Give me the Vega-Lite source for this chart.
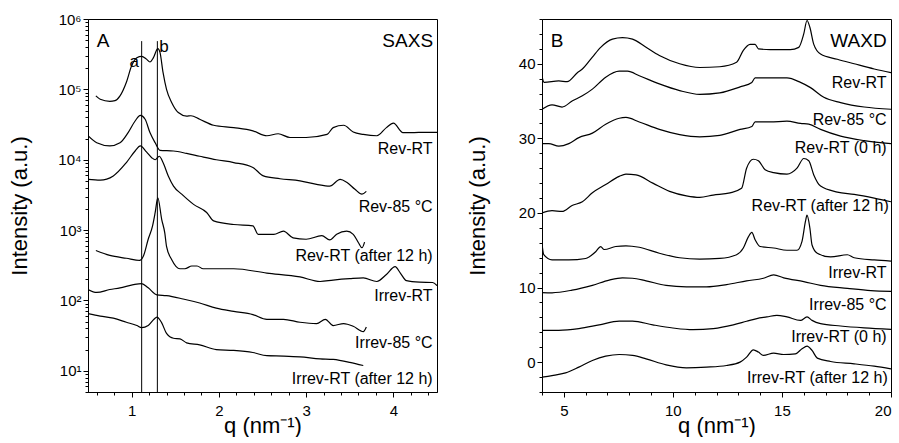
{
  "$schema": "https://vega.github.io/schema/vega-lite/v6.json",
  "padding": {"left": 8, "top": 11, "right": 0, "bottom": 0},
  "background": "white",
  "config": {
    "font": "Liberation Sans",
    "view": {"stroke": "black", "strokeWidth": 1},
    "axis": {"labelFont": "Liberation Sans", "labelFontSize": 15, "labelColor": "black", "titleFont": "Liberation Sans", "titleFontSize": 22, "titleFontWeight": "normal", "titleColor": "black", "grid": false, "domainColor": "black", "tickColor": "black", "labelOverlap": false, "labelPadding": 2},
    "axisX": {"labelPadding": 6, "titlePadding": -3}
  },
  "spacing": 27,
  "datasets": {
    "saxs": [
      {"s": "Rev-RT", "q": 0.59, "I": 80700}, {"s": "Rev-RT", "q": 0.64, "I": 72400}, {"s": "Rev-RT", "q": 0.75, "I": 67600}, {"s": "Rev-RT", "q": 0.81, "I": 69200}, {"s": "Rev-RT", "q": 0.867, "I": 80700}, {"s": "Rev-RT", "q": 0.94, "I": 126000}, {"s": "Rev-RT", "q": 1.0, "I": 216000}, {"s": "Rev-RT", "q": 1.06, "I": 282000}, {"s": "Rev-RT", "q": 1.115, "I": 295000}, {"s": "Rev-RT", "q": 1.17, "I": 269000}, {"s": "Rev-RT", "q": 1.21, "I": 245000}, {"s": "Rev-RT", "q": 1.25, "I": 282000}, {"s": "Rev-RT", "q": 1.3, "I": 380000}, {"s": "Rev-RT", "q": 1.325, "I": 335000}, {"s": "Rev-RT", "q": 1.36, "I": 174000}, {"s": "Rev-RT", "q": 1.4, "I": 100000}, {"s": "Rev-RT", "q": 1.46, "I": 64600}, {"s": "Rev-RT", "q": 1.535, "I": 46800}, {"s": "Rev-RT", "q": 1.63, "I": 41700}, {"s": "Rev-RT", "q": 1.68, "I": 42200}, {"s": "Rev-RT", "q": 1.78, "I": 37600}, {"s": "Rev-RT", "q": 1.94, "I": 30900}, {"s": "Rev-RT", "q": 2.17, "I": 28600}, {"s": "Rev-RT", "q": 2.39, "I": 25700}, {"s": "Rev-RT", "q": 2.55, "I": 21900}, {"s": "Rev-RT", "q": 2.68, "I": 23400}, {"s": "Rev-RT", "q": 2.815, "I": 20700}, {"s": "Rev-RT", "q": 3.0, "I": 20700}, {"s": "Rev-RT", "q": 3.24, "I": 22900}, {"s": "Rev-RT", "q": 3.31, "I": 28600}, {"s": "Rev-RT", "q": 3.43, "I": 30900}, {"s": "Rev-RT", "q": 3.54, "I": 24800}, {"s": "Rev-RT", "q": 3.655, "I": 22900}, {"s": "Rev-RT", "q": 3.81, "I": 21900}, {"s": "Rev-RT", "q": 3.92, "I": 28600}, {"s": "Rev-RT", "q": 4.0, "I": 33100}, {"s": "Rev-RT", "q": 4.11, "I": 24300}, {"s": "Rev-RT", "q": 4.24, "I": 24300}, {"s": "Rev-RT", "q": 4.34, "I": 24500}, {"s": "Rev-RT", "q": 4.5, "I": 24500},
      {"s": "Rev-85", "q": 0.5, "I": 21900}, {"s": "Rev-85", "q": 0.6, "I": 17400}, {"s": "Rev-85", "q": 0.75, "I": 15700}, {"s": "Rev-85", "q": 0.867, "I": 17400}, {"s": "Rev-85", "q": 0.96, "I": 24300}, {"s": "Rev-85", "q": 1.04, "I": 35500}, {"s": "Rev-85", "q": 1.1, "I": 42700}, {"s": "Rev-85", "q": 1.155, "I": 37600}, {"s": "Rev-85", "q": 1.21, "I": 24300}, {"s": "Rev-85", "q": 1.27, "I": 17400}, {"s": "Rev-85", "q": 1.325, "I": 13600}, {"s": "Rev-85", "q": 1.48, "I": 13300}, {"s": "Rev-85", "q": 1.63, "I": 12300}, {"s": "Rev-85", "q": 1.78, "I": 11200}, {"s": "Rev-85", "q": 1.97, "I": 10000}, {"s": "Rev-85", "q": 2.17, "I": 9120}, {"s": "Rev-85", "q": 2.39, "I": 7760}, {"s": "Rev-85", "q": 2.51, "I": 5890}, {"s": "Rev-85", "q": 2.7, "I": 5370}, {"s": "Rev-85", "q": 2.93, "I": 5010}, {"s": "Rev-85", "q": 3.12, "I": 4470}, {"s": "Rev-85", "q": 3.27, "I": 4220}, {"s": "Rev-85", "q": 3.39, "I": 5250}, {"s": "Rev-85", "q": 3.465, "I": 4790}, {"s": "Rev-85", "q": 3.56, "I": 3800}, {"s": "Rev-85", "q": 3.64, "I": 3240}, {"s": "Rev-85", "q": 3.69, "I": 3550},
      {"s": "Rev-12", "q": 0.5, "I": 5250}, {"s": "Rev-12", "q": 0.64, "I": 5130}, {"s": "Rev-12", "q": 0.79, "I": 5890}, {"s": "Rev-12", "q": 0.94, "I": 9120}, {"s": "Rev-12", "q": 1.04, "I": 13300}, {"s": "Rev-12", "q": 1.1, "I": 15700}, {"s": "Rev-12", "q": 1.17, "I": 12900}, {"s": "Rev-12", "q": 1.23, "I": 10700}, {"s": "Rev-12", "q": 1.27, "I": 10000}, {"s": "Rev-12", "q": 1.317, "I": 11200}, {"s": "Rev-12", "q": 1.36, "I": 9120}, {"s": "Rev-12", "q": 1.42, "I": 5890}, {"s": "Rev-12", "q": 1.48, "I": 4220}, {"s": "Rev-12", "q": 1.574, "I": 3240}, {"s": "Rev-12", "q": 1.71, "I": 2320}, {"s": "Rev-12", "q": 1.86, "I": 1780}, {"s": "Rev-12", "q": 1.94, "I": 1350}, {"s": "Rev-12", "q": 2.17, "I": 1200}, {"s": "Rev-12", "q": 2.39, "I": 1150}, {"s": "Rev-12", "q": 2.45, "I": 871}, {"s": "Rev-12", "q": 2.63, "I": 871}, {"s": "Rev-12", "q": 2.74, "I": 966}, {"s": "Rev-12", "q": 2.85, "I": 776}, {"s": "Rev-12", "q": 3.0, "I": 741}, {"s": "Rev-12", "q": 3.18, "I": 832}, {"s": "Rev-12", "q": 3.27, "I": 724}, {"s": "Rev-12", "q": 3.35, "I": 871}, {"s": "Rev-12", "q": 3.465, "I": 966}, {"s": "Rev-12", "q": 3.54, "I": 871}, {"s": "Rev-12", "q": 3.6, "I": 661}, {"s": "Rev-12", "q": 3.64, "I": 562}, {"s": "Rev-12", "q": 3.67, "I": 676},
      {"s": "Irrev-RT", "q": 0.59, "I": 513}, {"s": "Irrev-RT", "q": 0.75, "I": 437}, {"s": "Irrev-RT", "q": 0.94, "I": 398}, {"s": "Irrev-RT", "q": 1.096, "I": 372}, {"s": "Irrev-RT", "q": 1.135, "I": 427}, {"s": "Irrev-RT", "q": 1.19, "I": 741}, {"s": "Irrev-RT", "q": 1.24, "I": 1150}, {"s": "Irrev-RT", "q": 1.27, "I": 1780}, {"s": "Irrev-RT", "q": 1.3, "I": 2880}, {"s": "Irrev-RT", "q": 1.345, "I": 1410}, {"s": "Irrev-RT", "q": 1.38, "I": 912}, {"s": "Irrev-RT", "q": 1.4, "I": 589}, {"s": "Irrev-RT", "q": 1.46, "I": 380}, {"s": "Irrev-RT", "q": 1.554, "I": 282}, {"s": "Irrev-RT", "q": 1.61, "I": 282}, {"s": "Irrev-RT", "q": 1.69, "I": 309}, {"s": "Irrev-RT", "q": 1.75, "I": 309}, {"s": "Irrev-RT", "q": 1.82, "I": 282}, {"s": "Irrev-RT", "q": 2.17, "I": 282}, {"s": "Irrev-RT", "q": 2.55, "I": 245}, {"s": "Irrev-RT", "q": 2.93, "I": 216}, {"s": "Irrev-RT", "q": 3.16, "I": 186}, {"s": "Irrev-RT", "q": 3.31, "I": 195}, {"s": "Irrev-RT", "q": 3.5, "I": 204}, {"s": "Irrev-RT", "q": 3.655, "I": 209}, {"s": "Irrev-RT", "q": 3.81, "I": 186}, {"s": "Irrev-RT", "q": 3.92, "I": 234}, {"s": "Irrev-RT", "q": 4.02, "I": 302}, {"s": "Irrev-RT", "q": 4.08, "I": 245}, {"s": "Irrev-RT", "q": 4.15, "I": 191}, {"s": "Irrev-RT", "q": 4.3, "I": 182}, {"s": "Irrev-RT", "q": 4.45, "I": 180}, {"s": "Irrev-RT", "q": 4.5, "I": 162},
      {"s": "Irrev-85", "q": 0.5, "I": 143}, {"s": "Irrev-85", "q": 0.6, "I": 130}, {"s": "Irrev-85", "q": 0.75, "I": 143}, {"s": "Irrev-85", "q": 0.867, "I": 151}, {"s": "Irrev-85", "q": 1.02, "I": 168}, {"s": "Irrev-85", "q": 1.115, "I": 174}, {"s": "Irrev-85", "q": 1.19, "I": 151}, {"s": "Irrev-85", "q": 1.29, "I": 120}, {"s": "Irrev-85", "q": 1.4, "I": 117}, {"s": "Irrev-85", "q": 1.59, "I": 105}, {"s": "Irrev-85", "q": 1.78, "I": 92}, {"s": "Irrev-85", "q": 1.97, "I": 78}, {"s": "Irrev-85", "q": 2.17, "I": 70}, {"s": "Irrev-85", "q": 2.39, "I": 63}, {"s": "Irrev-85", "q": 2.55, "I": 54}, {"s": "Irrev-85", "q": 2.74, "I": 54}, {"s": "Irrev-85", "q": 2.93, "I": 49}, {"s": "Irrev-85", "q": 3.12, "I": 47}, {"s": "Irrev-85", "q": 3.22, "I": 54}, {"s": "Irrev-85", "q": 3.31, "I": 44}, {"s": "Irrev-85", "q": 3.43, "I": 47}, {"s": "Irrev-85", "q": 3.54, "I": 43}, {"s": "Irrev-85", "q": 3.655, "I": 36}, {"s": "Irrev-85", "q": 3.69, "I": 42},
      {"s": "Irrev-12", "q": 0.5, "I": 65}, {"s": "Irrev-12", "q": 0.64, "I": 60}, {"s": "Irrev-12", "q": 0.79, "I": 56}, {"s": "Irrev-12", "q": 0.94, "I": 49}, {"s": "Irrev-12", "q": 1.06, "I": 44}, {"s": "Irrev-12", "q": 1.115, "I": 41}, {"s": "Irrev-12", "q": 1.19, "I": 44}, {"s": "Irrev-12", "q": 1.256, "I": 54}, {"s": "Irrev-12", "q": 1.29, "I": 58}, {"s": "Irrev-12", "q": 1.345, "I": 48}, {"s": "Irrev-12", "q": 1.4, "I": 34}, {"s": "Irrev-12", "q": 1.48, "I": 29}, {"s": "Irrev-12", "q": 1.554, "I": 28.5}, {"s": "Irrev-12", "q": 1.63, "I": 25}, {"s": "Irrev-12", "q": 1.78, "I": 23.4}, {"s": "Irrev-12", "q": 1.97, "I": 20}, {"s": "Irrev-12", "q": 2.17, "I": 19.5}, {"s": "Irrev-12", "q": 2.39, "I": 18.2}, {"s": "Irrev-12", "q": 2.55, "I": 16.4}, {"s": "Irrev-12", "q": 2.74, "I": 16.2}, {"s": "Irrev-12", "q": 2.93, "I": 15.8}, {"s": "Irrev-12", "q": 3.16, "I": 14.8}, {"s": "Irrev-12", "q": 3.31, "I": 14.5}, {"s": "Irrev-12", "q": 3.5, "I": 13.2}, {"s": "Irrev-12", "q": 3.655, "I": 11.9}
    ],
    "saxsLabels": [
      {"q": 4.45, "I": 14000, "t": "Rev-RT"}, {"q": 4.45, "I": 2100, "t": "Rev-85 °C"}, {"q": 4.45, "I": 435, "t": "Rev-RT (after 12 h)"}, {"q": 4.45, "I": 117, "t": "Irrev-RT"}, {"q": 4.45, "I": 25, "t": "Irrev-85 °C"}, {"q": 4.45, "I": 7.7, "t": "Irrev-RT (after 12 h)"}
    ],
    "saxsPeaks": [{"q": 1.115, "top": 485000, "bottom": 5, "t": "a", "tq": 1.03, "tI": 248000}, {"q": 1.295, "top": 485000, "bottom": 5, "t": "b", "tq": 1.37, "tI": 400000}],
    "waxd": [
      {"s": "Rev-RT", "q": 4.0, "I": 38.3}, {"s": "Rev-RT", "q": 4.1, "I": 37.5}, {"s": "Rev-RT", "q": 4.77, "I": 37.7}, {"s": "Rev-RT", "q": 5.15, "I": 37.6}, {"s": "Rev-RT", "q": 5.62, "I": 38.8}, {"s": "Rev-RT", "q": 5.85, "I": 39.3}, {"s": "Rev-RT", "q": 6.31, "I": 40.9}, {"s": "Rev-RT", "q": 6.69, "I": 42.2}, {"s": "Rev-RT", "q": 7.23, "I": 43.3}, {"s": "Rev-RT", "q": 7.69, "I": 43.5}, {"s": "Rev-RT", "q": 8.15, "I": 43.3}, {"s": "Rev-RT", "q": 8.77, "I": 42.2}, {"s": "Rev-RT", "q": 9.38, "I": 41.1}, {"s": "Rev-RT", "q": 10.31, "I": 40.0}, {"s": "Rev-RT", "q": 11.23, "I": 39.5}, {"s": "Rev-RT", "q": 12.15, "I": 39.6}, {"s": "Rev-RT", "q": 12.92, "I": 40.2}, {"s": "Rev-RT", "q": 13.23, "I": 41.8}, {"s": "Rev-RT", "q": 13.54, "I": 42.6}, {"s": "Rev-RT", "q": 13.77, "I": 42.6}, {"s": "Rev-RT", "q": 13.92, "I": 42.0}, {"s": "Rev-RT", "q": 14.46, "I": 41.9}, {"s": "Rev-RT", "q": 15.38, "I": 41.9}, {"s": "Rev-RT", "q": 15.77, "I": 42.2}, {"s": "Rev-RT", "q": 16.0, "I": 44.0}, {"s": "Rev-RT", "q": 16.15, "I": 45.8}, {"s": "Rev-RT", "q": 16.28, "I": 44.9}, {"s": "Rev-RT", "q": 16.46, "I": 42.6}, {"s": "Rev-RT", "q": 16.77, "I": 41.3}, {"s": "Rev-RT", "q": 17.54, "I": 40.6}, {"s": "Rev-RT", "q": 18.31, "I": 40.0}, {"s": "Rev-RT", "q": 19.23, "I": 39.3}, {"s": "Rev-RT", "q": 20.0, "I": 38.8},
      {"s": "Rev-85", "q": 4.0, "I": 33.9}, {"s": "Rev-85", "q": 4.46, "I": 34.5}, {"s": "Rev-85", "q": 4.92, "I": 34.2}, {"s": "Rev-85", "q": 5.38, "I": 35.0}, {"s": "Rev-85", "q": 5.85, "I": 35.7}, {"s": "Rev-85", "q": 6.31, "I": 36.6}, {"s": "Rev-85", "q": 6.92, "I": 38.2}, {"s": "Rev-85", "q": 7.54, "I": 39.0}, {"s": "Rev-85", "q": 7.92, "I": 39.0}, {"s": "Rev-85", "q": 8.46, "I": 38.4}, {"s": "Rev-85", "q": 9.38, "I": 37.3}, {"s": "Rev-85", "q": 10.31, "I": 36.4}, {"s": "Rev-85", "q": 11.23, "I": 35.9}, {"s": "Rev-85", "q": 12.15, "I": 36.1}, {"s": "Rev-85", "q": 13.08, "I": 36.9}, {"s": "Rev-85", "q": 13.62, "I": 37.5}, {"s": "Rev-85", "q": 13.77, "I": 38.1}, {"s": "Rev-85", "q": 14.46, "I": 38.1}, {"s": "Rev-85", "q": 15.23, "I": 38.1}, {"s": "Rev-85", "q": 15.85, "I": 37.5}, {"s": "Rev-85", "q": 16.31, "I": 36.8}, {"s": "Rev-85", "q": 16.92, "I": 35.5}, {"s": "Rev-85", "q": 17.69, "I": 34.8}, {"s": "Rev-85", "q": 18.77, "I": 34.2}, {"s": "Rev-85", "q": 20.0, "I": 33.9},
      {"s": "Rev-0", "q": 4.0, "I": 29.3}, {"s": "Rev-0", "q": 4.31, "I": 29.3}, {"s": "Rev-0", "q": 4.77, "I": 28.95}, {"s": "Rev-0", "q": 5.23, "I": 29.3}, {"s": "Rev-0", "q": 5.69, "I": 30.1}, {"s": "Rev-0", "q": 6.31, "I": 30.7}, {"s": "Rev-0", "q": 6.92, "I": 31.9}, {"s": "Rev-0", "q": 7.54, "I": 32.7}, {"s": "Rev-0", "q": 7.85, "I": 32.8}, {"s": "Rev-0", "q": 8.46, "I": 32.2}, {"s": "Rev-0", "q": 9.38, "I": 31.2}, {"s": "Rev-0", "q": 10.31, "I": 30.5}, {"s": "Rev-0", "q": 11.23, "I": 30.2}, {"s": "Rev-0", "q": 12.15, "I": 30.4}, {"s": "Rev-0", "q": 13.08, "I": 31.2}, {"s": "Rev-0", "q": 13.62, "I": 31.6}, {"s": "Rev-0", "q": 13.77, "I": 32.2}, {"s": "Rev-0", "q": 14.46, "I": 32.2}, {"s": "Rev-0", "q": 15.23, "I": 32.3}, {"s": "Rev-0", "q": 15.85, "I": 32.0}, {"s": "Rev-0", "q": 16.23, "I": 31.9}, {"s": "Rev-0", "q": 16.77, "I": 31.2}, {"s": "Rev-0", "q": 17.69, "I": 30.3}, {"s": "Rev-0", "q": 18.77, "I": 29.7}, {"s": "Rev-0", "q": 20.0, "I": 29.3},
      {"s": "Rev-12", "q": 4.0, "I": 20.0}, {"s": "Rev-12", "q": 4.46, "I": 20.3}, {"s": "Rev-12", "q": 4.92, "I": 20.2}, {"s": "Rev-12", "q": 5.38, "I": 21.0}, {"s": "Rev-12", "q": 5.85, "I": 21.5}, {"s": "Rev-12", "q": 6.31, "I": 22.7}, {"s": "Rev-12", "q": 6.92, "I": 23.8}, {"s": "Rev-12", "q": 7.54, "I": 24.9}, {"s": "Rev-12", "q": 7.85, "I": 25.2}, {"s": "Rev-12", "q": 8.31, "I": 25.1}, {"s": "Rev-12", "q": 9.08, "I": 24.0}, {"s": "Rev-12", "q": 9.85, "I": 22.9}, {"s": "Rev-12", "q": 10.62, "I": 22.3}, {"s": "Rev-12", "q": 11.23, "I": 22.1}, {"s": "Rev-12", "q": 11.85, "I": 22.4}, {"s": "Rev-12", "q": 12.62, "I": 22.7}, {"s": "Rev-12", "q": 13.15, "I": 23.3}, {"s": "Rev-12", "q": 13.38, "I": 26.0}, {"s": "Rev-12", "q": 13.69, "I": 27.2}, {"s": "Rev-12", "q": 13.92, "I": 27.0}, {"s": "Rev-12", "q": 14.23, "I": 25.8}, {"s": "Rev-12", "q": 14.62, "I": 25.4}, {"s": "Rev-12", "q": 15.23, "I": 25.2}, {"s": "Rev-12", "q": 15.69, "I": 26.0}, {"s": "Rev-12", "q": 16.0, "I": 27.3}, {"s": "Rev-12", "q": 16.23, "I": 27.0}, {"s": "Rev-12", "q": 16.46, "I": 25.1}, {"s": "Rev-12", "q": 16.77, "I": 23.6}, {"s": "Rev-12", "q": 17.54, "I": 22.8}, {"s": "Rev-12", "q": 18.31, "I": 22.5}, {"s": "Rev-12", "q": 19.23, "I": 22.0}, {"s": "Rev-12", "q": 20.0, "I": 21.5},
      {"s": "Irrev-RT", "q": 4.0, "I": 15.9}, {"s": "Irrev-RT", "q": 4.08, "I": 14.4}, {"s": "Irrev-RT", "q": 4.46, "I": 13.7}, {"s": "Irrev-RT", "q": 5.23, "I": 13.7}, {"s": "Irrev-RT", "q": 6.0, "I": 13.9}, {"s": "Irrev-RT", "q": 6.46, "I": 14.8}, {"s": "Irrev-RT", "q": 6.69, "I": 15.5}, {"s": "Irrev-RT", "q": 6.85, "I": 15.1}, {"s": "Irrev-RT", "q": 7.38, "I": 15.5}, {"s": "Irrev-RT", "q": 7.85, "I": 15.6}, {"s": "Irrev-RT", "q": 8.46, "I": 15.4}, {"s": "Irrev-RT", "q": 9.38, "I": 14.6}, {"s": "Irrev-RT", "q": 10.31, "I": 14.0}, {"s": "Irrev-RT", "q": 11.23, "I": 13.8}, {"s": "Irrev-RT", "q": 12.15, "I": 13.9}, {"s": "Irrev-RT", "q": 12.92, "I": 14.4}, {"s": "Irrev-RT", "q": 13.23, "I": 15.3}, {"s": "Irrev-RT", "q": 13.46, "I": 16.8}, {"s": "Irrev-RT", "q": 13.62, "I": 17.4}, {"s": "Irrev-RT", "q": 13.77, "I": 16.4}, {"s": "Irrev-RT", "q": 14.0, "I": 15.5}, {"s": "Irrev-RT", "q": 14.62, "I": 15.3}, {"s": "Irrev-RT", "q": 15.23, "I": 15.0}, {"s": "Irrev-RT", "q": 15.69, "I": 15.0}, {"s": "Irrev-RT", "q": 15.92, "I": 16.2}, {"s": "Irrev-RT", "q": 16.08, "I": 18.9}, {"s": "Irrev-RT", "q": 16.15, "I": 19.7}, {"s": "Irrev-RT", "q": 16.28, "I": 18.0}, {"s": "Irrev-RT", "q": 16.38, "I": 15.7}, {"s": "Irrev-RT", "q": 16.62, "I": 14.6}, {"s": "Irrev-RT", "q": 17.23, "I": 14.1}, {"s": "Irrev-RT", "q": 18.0, "I": 14.4}, {"s": "Irrev-RT", "q": 18.31, "I": 14.0}, {"s": "Irrev-RT", "q": 19.23, "I": 13.7}, {"s": "Irrev-RT", "q": 20.0, "I": 13.55},
      {"s": "Irrev-85", "q": 4.0, "I": 9.33}, {"s": "Irrev-85", "q": 4.46, "I": 9.3}, {"s": "Irrev-85", "q": 5.38, "I": 9.65}, {"s": "Irrev-85", "q": 6.31, "I": 10.3}, {"s": "Irrev-85", "q": 7.08, "I": 11.0}, {"s": "Irrev-85", "q": 7.69, "I": 11.3}, {"s": "Irrev-85", "q": 8.15, "I": 11.25}, {"s": "Irrev-85", "q": 8.77, "I": 10.9}, {"s": "Irrev-85", "q": 9.69, "I": 10.3}, {"s": "Irrev-85", "q": 10.62, "I": 10.1}, {"s": "Irrev-85", "q": 11.54, "I": 10.1}, {"s": "Irrev-85", "q": 12.46, "I": 10.4}, {"s": "Irrev-85", "q": 13.38, "I": 10.9}, {"s": "Irrev-85", "q": 14.15, "I": 11.25}, {"s": "Irrev-85", "q": 14.62, "I": 11.7}, {"s": "Irrev-85", "q": 15.08, "I": 11.3}, {"s": "Irrev-85", "q": 16.0, "I": 10.8}, {"s": "Irrev-85", "q": 16.77, "I": 10.3}, {"s": "Irrev-85", "q": 18.0, "I": 9.9}, {"s": "Irrev-85", "q": 19.08, "I": 9.6}, {"s": "Irrev-85", "q": 20.0, "I": 9.5},
      {"s": "Irrev-0", "q": 4.0, "I": 4.27}, {"s": "Irrev-0", "q": 4.77, "I": 4.27}, {"s": "Irrev-0", "q": 5.69, "I": 4.5}, {"s": "Irrev-0", "q": 6.62, "I": 5.0}, {"s": "Irrev-0", "q": 7.54, "I": 5.5}, {"s": "Irrev-0", "q": 8.15, "I": 5.5}, {"s": "Irrev-0", "q": 9.08, "I": 5.0}, {"s": "Irrev-0", "q": 10.0, "I": 4.58}, {"s": "Irrev-0", "q": 10.92, "I": 4.35}, {"s": "Irrev-0", "q": 11.85, "I": 4.5}, {"s": "Irrev-0", "q": 12.77, "I": 5.0}, {"s": "Irrev-0", "q": 13.38, "I": 5.48}, {"s": "Irrev-0", "q": 13.85, "I": 5.84}, {"s": "Irrev-0", "q": 14.31, "I": 6.06}, {"s": "Irrev-0", "q": 14.77, "I": 6.28}, {"s": "Irrev-0", "q": 15.23, "I": 6.06}, {"s": "Irrev-0", "q": 15.85, "I": 5.6}, {"s": "Irrev-0", "q": 16.15, "I": 6.06}, {"s": "Irrev-0", "q": 16.38, "I": 5.6}, {"s": "Irrev-0", "q": 16.77, "I": 5.16}, {"s": "Irrev-0", "q": 17.69, "I": 4.85}, {"s": "Irrev-0", "q": 18.77, "I": 4.6}, {"s": "Irrev-0", "q": 20.0, "I": 4.4},
      {"s": "Irrev-12", "q": 4.0, "I": -2.0}, {"s": "Irrev-12", "q": 4.46, "I": -1.8}, {"s": "Irrev-12", "q": 5.08, "I": -1.44}, {"s": "Irrev-12", "q": 5.69, "I": -0.67}, {"s": "Irrev-12", "q": 6.31, "I": 0.22}, {"s": "Irrev-12", "q": 6.92, "I": 0.8}, {"s": "Irrev-12", "q": 7.54, "I": 1.03}, {"s": "Irrev-12", "q": 8.15, "I": 0.9}, {"s": "Irrev-12", "q": 8.77, "I": 0.45}, {"s": "Irrev-12", "q": 9.69, "I": -0.36}, {"s": "Irrev-12", "q": 10.62, "I": -0.76}, {"s": "Irrev-12", "q": 11.54, "I": -0.67}, {"s": "Irrev-12", "q": 12.46, "I": -0.45}, {"s": "Irrev-12", "q": 13.08, "I": 0.0}, {"s": "Irrev-12", "q": 13.38, "I": 0.67}, {"s": "Irrev-12", "q": 13.69, "I": 1.66}, {"s": "Irrev-12", "q": 13.92, "I": 1.35}, {"s": "Irrev-12", "q": 14.15, "I": 0.9}, {"s": "Irrev-12", "q": 14.62, "I": 1.21}, {"s": "Irrev-12", "q": 15.08, "I": 1.03}, {"s": "Irrev-12", "q": 15.62, "I": 1.12}, {"s": "Irrev-12", "q": 15.92, "I": 1.8}, {"s": "Irrev-12", "q": 16.15, "I": 2.15}, {"s": "Irrev-12", "q": 16.38, "I": 1.57}, {"s": "Irrev-12", "q": 16.62, "I": 0.54}, {"s": "Irrev-12", "q": 17.23, "I": 0.09}, {"s": "Irrev-12", "q": 18.31, "I": -0.22}, {"s": "Irrev-12", "q": 19.23, "I": -0.54}, {"s": "Irrev-12", "q": 20.0, "I": -0.9}
    ],
    "waxdLabels": [
      {"q": 19.8, "I": 37.4, "t": "Rev-RT"}, {"q": 19.8, "I": 32.5, "t": "Rev-85 °C"}, {"q": 19.8, "I": 28.7, "t": "Rev-RT (0 h)"}, {"q": 19.9, "I": 21.0, "t": "Rev-RT (after 12 h)"}, {"q": 19.8, "I": 12.0, "t": "Irrev-RT"}, {"q": 19.8, "I": 7.7, "t": "Irrev-85 °C"}, {"q": 19.8, "I": 3.4, "t": "Irrev-RT (0 h)"}, {"q": 19.85, "I": -2.15, "t": "Irrev-RT (after 12 h)"}
    ],
    "panelA": [{"q": 0.6, "I": 490000, "t": "A", "q2": 4.455, "t2": "SAXS"}],
    "panelB": [{"q": 4.4, "I": 43.1, "t": "B", "q2": 19.8, "t2": "WAXD"}]
  },
  "hconcat": [
    {
      "width": 349,
      "height": 373,
      "encoding": {
        "x": {"field": "q", "type": "quantitative", "scale": {"domain": [0.5, 4.5], "nice": false, "zero": false},
          "axis": {"title": "q  (nm⁻¹)", "values": [0.6, 0.8, 1, 1.2, 1.4, 1.6, 1.8, 2, 2.2, 2.4, 2.6, 2.8, 3, 3.2, 3.4, 3.6, 3.8, 4, 4.2, 4.4],
            "labelExpr": "datum.value == round(datum.value) ? format(datum.value, 'd') : ''",
            "tickSize": {"condition": {"test": "datum.value == round(datum.value)", "value": 5}, "value": 3}}},
        "y": {"field": "I", "type": "quantitative", "scale": {"type": "log", "domain": [5, 1000000], "nice": false},
          "axis": {"title": "Intensity (a.u.)", "titlePadding": 26,
            "values": [5, 6, 7, 8, 9, 10, 20, 30, 40, 50, 60, 70, 80, 90, 100, 200, 300, 400, 500, 600, 700, 800, 900, 1000, 2000, 3000, 4000, 5000, 6000, 7000, 8000, 9000, 10000, 20000, 30000, 40000, 50000, 60000, 70000, 80000, 90000, 100000, 200000, 300000, 400000, 500000, 600000, 700000, 800000, 900000, 1000000],
            "labelExpr": "abs(log(datum.value)/LN10 - round(log(datum.value)/LN10)) < 0.000001 ? '10' + ['⁰','¹','²','³','⁴','⁵','⁶'][round(log(datum.value)/LN10)] : ''",
            "tickSize": {"condition": {"test": "abs(log(datum.value)/LN10 - round(log(datum.value)/LN10)) < 0.000001", "value": 5}, "value": 3}}}
      },
      "layer": [
        {"data": {"name": "saxs"}, "mark": {"type": "line", "color": "black", "strokeWidth": 1.2, "clip": true, "interpolate": "monotone"}, "encoding": {"detail": {"field": "s"}}},
        {"data": {"name": "saxsPeaks"}, "mark": {"type": "rule", "color": "black", "strokeWidth": 1}, "encoding": {"x": {"field": "q", "type": "quantitative"}, "y": {"field": "top", "type": "quantitative"}, "y2": {"field": "bottom"}}},
        {"data": {"name": "saxsPeaks"}, "mark": {"type": "text", "fontSize": 17, "color": "black", "baseline": "middle", "align": "center"}, "encoding": {"x": {"field": "tq", "type": "quantitative"}, "y": {"field": "tI", "type": "quantitative"}, "text": {"field": "t"}}},
        {"data": {"name": "saxsLabels"}, "mark": {"type": "text", "fontSize": 16, "color": "black", "align": "right", "baseline": "middle"}, "encoding": {"text": {"field": "t"}}},
        {"data": {"name": "panelA"}, "mark": {"type": "text", "fontSize": 19, "color": "black", "align": "left", "baseline": "middle"}, "encoding": {"text": {"field": "t"}}},
        {"data": {"name": "panelA"}, "mark": {"type": "text", "fontSize": 19, "color": "black", "align": "right", "baseline": "middle"}, "encoding": {"x": {"field": "q2", "type": "quantitative"}, "text": {"field": "t2"}}}
      ]
    },
    {
      "width": 349,
      "height": 373,
      "encoding": {
        "x": {"field": "q", "type": "quantitative", "scale": {"domain": [4, 20], "nice": false, "zero": false},
          "axis": {"title": "q  (nm⁻¹)", "values": [4, 5, 6, 7, 8, 9, 10, 11, 12, 13, 14, 15, 16, 17, 18, 19, 20],
            "labelExpr": "datum.value % 5 == 0 ? datum.label : ''",
            "tickSize": {"condition": {"test": "datum.value % 5 == 0", "value": 5}, "value": 3}}},
        "y": {"field": "I", "type": "quantitative", "scale": {"domain": [-4, 46], "nice": false, "zero": false},
          "axis": {"title": "Intensity (a.u.)", "titlePadding": 29, "values": [-4, -2, 0, 2, 4, 6, 8, 10, 12, 14, 16, 18, 20, 22, 24, 26, 28, 30, 32, 34, 36, 38, 40, 42, 44, 46],
            "labelExpr": "datum.value % 10 == 0 ? datum.label : ''",
            "tickSize": {"condition": {"test": "datum.value % 10 == 0", "value": 5}, "value": 3}}}
      },
      "layer": [
        {"data": {"name": "waxd"}, "mark": {"type": "line", "color": "black", "strokeWidth": 1.2, "clip": true, "interpolate": "monotone"}, "encoding": {"detail": {"field": "s"}}},
        {"data": {"name": "waxdLabels"}, "mark": {"type": "text", "fontSize": 16, "color": "black", "align": "right", "baseline": "middle"}, "encoding": {"text": {"field": "t"}}},
        {"data": {"name": "panelB"}, "mark": {"type": "text", "fontSize": 19, "color": "black", "align": "left", "baseline": "middle"}, "encoding": {"text": {"field": "t"}}},
        {"data": {"name": "panelB"}, "mark": {"type": "text", "fontSize": 19, "color": "black", "align": "right", "baseline": "middle"}, "encoding": {"x": {"field": "q2", "type": "quantitative"}, "text": {"field": "t2"}}}
      ]
    }
  ]
}
